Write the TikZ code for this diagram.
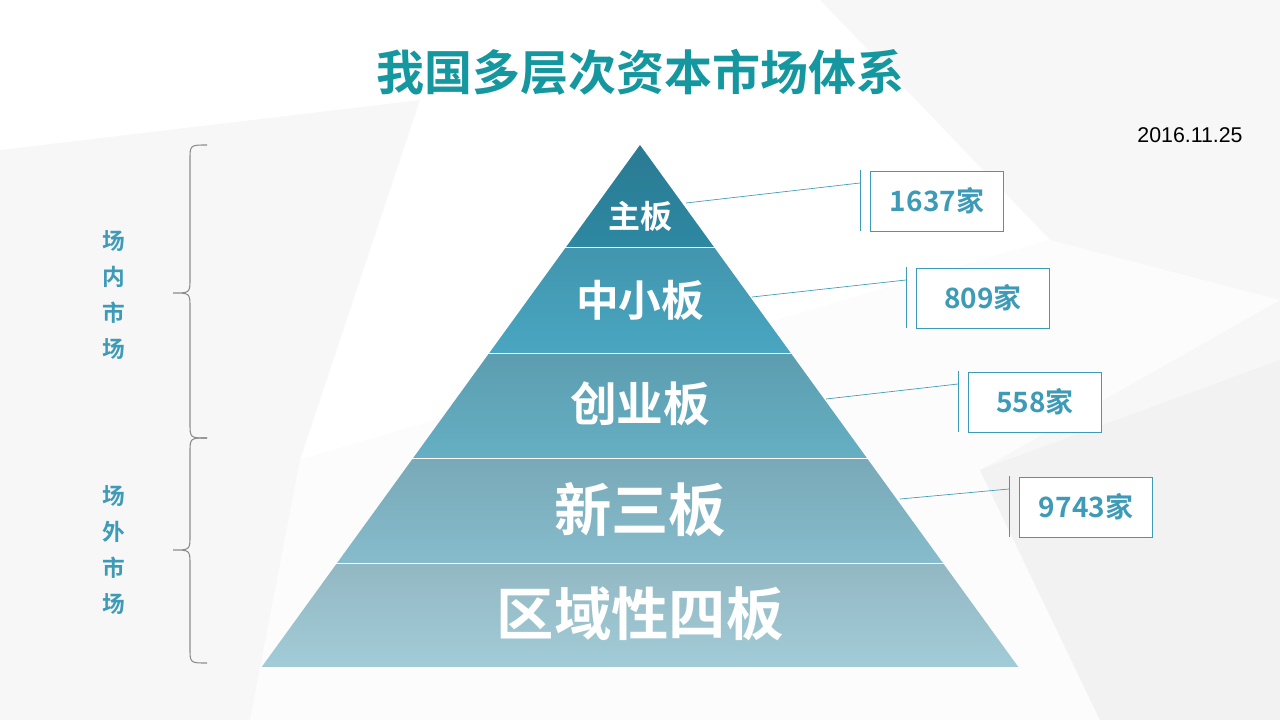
\documentclass[tikz,border=0pt]{standalone}
\usepackage{fontspec}
\newfontfamily\cjk{Noto Sans CJK SC}
\newfontfamily\cjkb{Noto Sans CJK SC Bold}
\setmainfont{Liberation Sans}
\definecolor{teal1}{HTML}{1597A0}
\definecolor{lab}{HTML}{3E9BB8}
\definecolor{l1}{HTML}{2E88A2}
\definecolor{l2}{HTML}{49A6C1}
\definecolor{l3}{HTML}{66AFC3}
\definecolor{l4}{HTML}{86BCCC}
\definecolor{l5}{HTML}{A2CCD8}
\tikzset{x=0.75pt,y=-0.75pt,
 cnt/.style={draw=lab,line width=0.6pt,fill=white,minimum width=100pt,minimum height=45pt,inner sep=0pt,font=\cjkb\fontsize{21}{21}\selectfont,text=lab},
 layer/.style={text=white,font=\cjkb},
 conn/.style={draw=lab,line width=0.5pt}}
\begin{document}
\begin{tikzpicture}
\useasboundingbox (0,0) rectangle (1280,720);
\fill[black!3] (0,0) rectangle (1280,720);
\fill[white] (0,0) -- (820,0) -- (1050,240) -- (300,460) -- (420,100) -- (0,150) -- cycle;
\fill[white!60!black!3] (300,460) -- (1050,240) -- (1280,300) -- (980,470) -- (1100,720) -- (250,720) -- cycle;
\fill[black!5] (980,470) -- (1280,360) -- (1280,720) -- (1100,720) -- cycle;
\node[text=teal1,font=\cjkb\fontsize{36}{36}\selectfont] (title) at (640,72) {我国多层次资本市场体系};
\node[font=\fontsize{16}{16}\selectfont] (date) at (1190,135) {2016.11.25};
% pyramid layers
\foreach \ya/\yb/\c in {145/248/l1,248/354/l2,354/459/l3,459/564/l4,564/668/l5}{
 \shade[top color=\c!90!black,bottom color=\c] ({640-(\ya-145)*0.7247},\ya) -- ({640+(\ya-145)*0.7247},\ya) -- ({640+(\yb-145)*0.7247},\yb) -- ({640-(\yb-145)*0.7247},\yb) -- cycle;
 \draw[white,line width=1pt] ({640-(\yb-145)*0.7247},\yb) -- ({640+(\yb-145)*0.7247},\yb);
}
\node[layer,font=\cjkb\fontsize{24}{24}\selectfont] (p1) at (640,216) {主板};
\node[layer,font=\cjkb\fontsize{32}{32}\selectfont] (p2) at (640,300) {中小板};
\node[layer,font=\cjkb\fontsize{35}{35}\selectfont] (p3) at (640,404) {创业板};
\node[layer,font=\cjkb\fontsize{43}{43}\selectfont] (p4) at (640,510) {新三板};
\node[layer,font=\cjkb\fontsize{43}{43}\selectfont] (p5) at (640,614) {区域性四板};
% callouts
\foreach \n/\bx/\by/\sx/\sy/\t in {1/937/201/686/203/1637家,2/983/298/752/297/809家,3/1035/402/826/399/558家,4/1086/507/900/499/9743家}{
 \node[cnt] (c\n) at (\bx,\by) {\t};
 \coordinate (v\n a) at (\bx-77,\by-31);
 \coordinate (v\n b) at (\bx-77,\by+30);
 \coordinate (s\n) at (\sx,\sy);
 \coordinate (e\n) at (\bx-77,\by-18);
 \draw[conn] (v\n a) -- (v\n b);
 \draw[conn] (s\n) -- (e\n);
}
% braces
\draw[black!45,line width=0.8pt] (207,145) .. controls (190,145) .. (190,160) -- (190,278) .. controls (190,293) .. (173,293) .. controls (190,293) .. (190,308) -- (190,423) .. controls (190,438) .. (207,438);
\draw[black!45,line width=0.8pt] (207,438) .. controls (190,438) .. (190,453) -- (190,535) .. controls (190,550) .. (173,550) .. controls (190,550) .. (190,565) -- (190,648) .. controls (190,663) .. (207,663);
\node[text=lab,font=\cjkb\fontsize{17}{27}\selectfont,align=center] (in) at (114,295) {场\\内\\市\\场};
\node[text=lab,font=\cjkb\fontsize{17}{27}\selectfont,align=center] (out) at (114,550) {场\\外\\市\\场};
\end{tikzpicture}
\end{document}
